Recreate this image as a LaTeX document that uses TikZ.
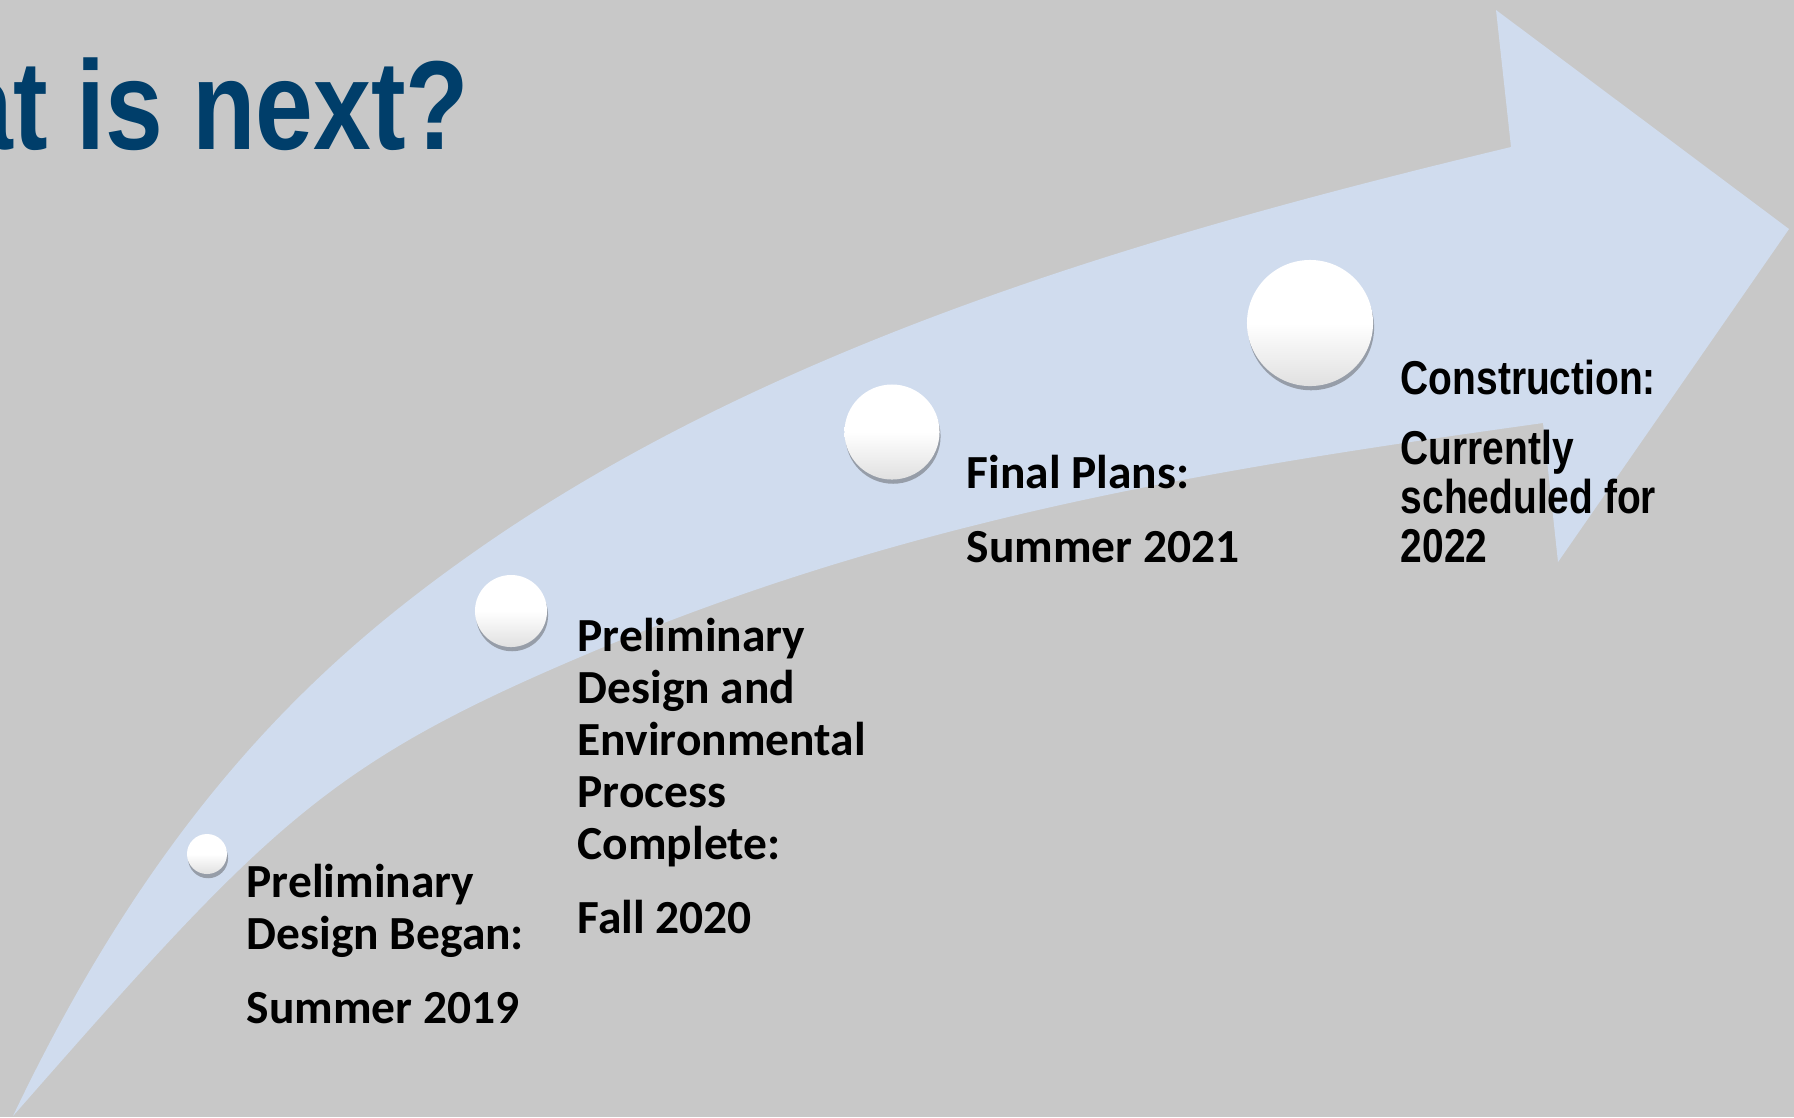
\documentclass[tikz,border=0pt]{standalone}
\usepackage{fontspec}
\usepackage{tikz}
\usetikzlibrary{shadows, positioning}
\setmainfont{Carlito}
\newfontfamily\narrowfont[FakeStretch=0.82]{Liberation Sans}
\definecolor{bggray}{RGB}{200,200,200}
\definecolor{arrowblue}{RGB}{208,220,238}
\definecolor{titleblue}{RGB}{0,62,106}
\tikzset{milestone/.style={circle, inner sep=0pt, top color=white, bottom color=black!12, middle color=white,
    drop shadow={shadow xshift=0.3pt, shadow yshift=-1.2pt, opacity=0.4, fill=black!75}},
    steptext/.style={anchor=north west, inner sep=0pt, align=left, font=\bfseries\fontsize{13.5}{14.8}\selectfont},
    narrowtext/.style={anchor=north west, inner sep=0pt, align=left, font=\narrowfont\bfseries\fontsize{13.5}{14}\selectfont}}
\begin{document}
\begin{tikzpicture}[x=0.01cm, y=-0.01cm]
    \useasboundingbox (0,0) rectangle (1794,1117);
    \fill[bggray] (0,0) rectangle (1794,1117);
    \clip (0,0) rectangle (1794,1117);

    % curved arrow
    \fill[arrowblue] (13,1116) .. controls (163,801) and (327,655) .. (477,550)
        .. controls (777,340) and (1161,231) .. (1511,147)
        -- (1496,10) -- (1789,229) -- (1558,562) -- (1543,423)
        .. controls (1213,469) and (903,518) .. (573,660)
        .. controls (323,767) and (263,831) .. (13,1116) -- cycle;

    \node[anchor=base east, inner sep=0pt, text=titleblue, font=\narrowfont\bfseries\fontsize{36}{40}\selectfont] (title) at (470,149) {What is next?};

    \node[milestone, minimum size=0.4cm] (c1) at (207,854) {};
    \node[milestone, minimum size=0.72cm] (c2) at (511,611) {};
    \node[milestone, minimum size=0.95cm] (c3) at (892,432) {};
    \node[milestone, minimum size=1.26cm] (c4) at (1310,323) {};

    \node[steptext] (t1) at (246,863) {Preliminary\\Design Began:\\[6.3pt]Summer 2019};
    \node[steptext] (t2) at (577,617) {Preliminary\\Design and\\Environmental\\Process\\Complete:\\[6.3pt]Fall 2020};
    \node[steptext] (t3) at (966,454) {Final Plans:\\[6.3pt]Summer 2021};
    \node[narrowtext] (t4) at (1400,359) {Construction:\\[5.9pt]Currently\\scheduled for\\2022};
\end{tikzpicture}
\end{document}
